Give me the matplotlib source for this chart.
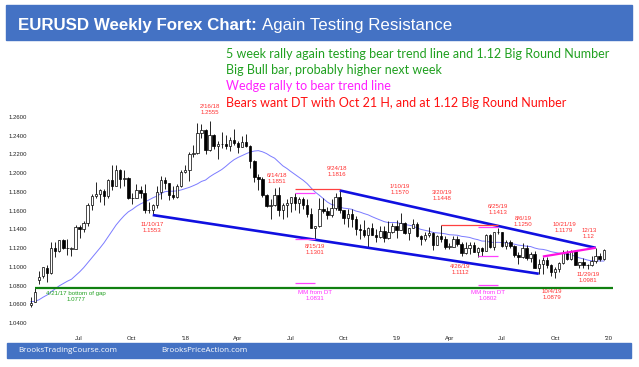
import matplotlib
matplotlib.use('Agg')
import matplotlib.pyplot as plt
import matplotlib.dates as mdates
from matplotlib.patches import Rectangle
import pandas as pd

W, H = 639, 367

# weekly EURUSD candles, weeks starting Monday 10 Apr 2017
first_week = '2017-04-10'
opens = [
    # 2017
    1.0590, 1.0620, 1.0860, 1.0900, 1.0990, 1.0935, 1.1205, 1.1165, 1.1282, 1.1198,
    1.1195, 1.1195, 1.1425, 1.1400, 1.1470, 1.1660, 1.1752, 1.1775, 1.1815, 1.1760,
    1.1925, 1.1860, 1.2035, 1.1940, 1.1950, 1.1730, 1.1735, 1.1820, 1.1785, 1.1610,
    1.1605, 1.1665, 1.1795, 1.1930, 1.1890, 1.1770, 1.1750, 1.1860,
    # 2018
    1.2010, 1.2030, 1.2200, 1.2220, 1.2425, 1.2460, 1.2250, 1.2405, 1.2295, 1.2310,
    1.2310, 1.2290, 1.2355, 1.2320, 1.2280, 1.2330, 1.2290, 1.2130, 1.1960, 1.1940,
    1.1770, 1.1650, 1.1660, 1.1770, 1.1610, 1.1655, 1.1685, 1.1745, 1.1685, 1.1720,
    1.1655, 1.1565, 1.1410, 1.1440, 1.1620, 1.1600, 1.1550, 1.1625, 1.1750, 1.1605,
    1.1525, 1.1560, 1.1510, 1.1400, 1.1390, 1.1335, 1.1415, 1.1340, 1.1315, 1.1380,
    1.1305, 1.1370,
    # 2019
    1.1440, 1.1395, 1.1465, 1.1365, 1.1410, 1.1455, 1.1325, 1.1295, 1.1335, 1.1365,
    1.1235, 1.1325, 1.1300, 1.1215, 1.1215, 1.1300, 1.1245, 1.1150, 1.1200, 1.1235,
    1.1160, 1.1205, 1.1170, 1.1335, 1.1210, 1.1370, 1.1370, 1.1225, 1.1270, 1.1220,
    1.1125, 1.1110, 1.1200, 1.1090, 1.1140, 1.0985, 1.1030, 1.1075, 1.1015, 1.0940,
    1.0980, 1.1040, 1.1145, 1.1080, 1.1165, 1.1020, 1.1050, 1.1020, 1.1015, 1.1060,
    1.1120, 1.1080,
]
highs = [
    1.0680, 1.0777, 1.0950, 1.0995, 1.1020, 1.1265, 1.1268, 1.1285, 1.1295, 1.1295,
    1.1210, 1.1445, 1.1445, 1.1490, 1.1680, 1.1775, 1.1910, 1.1830, 1.1829, 1.1940,
    1.2092, 1.2090, 1.2040, 1.2035, 1.1960, 1.1790, 1.1880, 1.1860, 1.1880, 1.1690,
    1.1668, 1.1860, 1.1965, 1.1960, 1.1890, 1.1860, 1.1880, 1.2030,
    1.2090, 1.2230, 1.2300, 1.2537, 1.2520, 1.2470, 1.2555, 1.2420, 1.2345, 1.2445,
    1.2410, 1.2390, 1.2475, 1.2340, 1.2395, 1.2415, 1.2300, 1.2140, 1.1995, 1.1960,
    1.1780, 1.1720, 1.1840, 1.1852, 1.1680, 1.1720, 1.1750, 1.1790, 1.1745, 1.1750,
    1.1720, 1.1630, 1.1440, 1.1730, 1.1735, 1.1640, 1.1720, 1.1790, 1.1816, 1.1610,
    1.1620, 1.1620, 1.1545, 1.1455, 1.1500, 1.1420, 1.1470, 1.1400, 1.1440, 1.1440,
    1.1485, 1.1470,
    1.1500, 1.1570, 1.1480, 1.1415, 1.1515, 1.1480, 1.1340, 1.1370, 1.1420, 1.1375,
    1.1345, 1.1448, 1.1325, 1.1255, 1.1325, 1.1325, 1.1265, 1.1265, 1.1265, 1.1265,
    1.1215, 1.1215, 1.1350, 1.1350, 1.1375, 1.1413, 1.1375, 1.1285, 1.1285, 1.1230,
    1.1160, 1.1250, 1.1230, 1.1160, 1.1165, 1.1085, 1.1110, 1.1105, 1.1025, 1.0995,
    1.1050, 1.1175, 1.1179, 1.1175, 1.1175, 1.1050, 1.1090, 1.1025, 1.1115, 1.1200,
    1.1145, 1.1190,
]
lows = [
    1.0570, 1.0620, 1.0821, 1.0880, 1.0840, 1.0925, 1.1110, 1.1160, 1.1193, 1.1130,
    1.1120, 1.1190, 1.1310, 1.1370, 1.1440, 1.1610, 1.1730, 1.1690, 1.1660, 1.1740,
    1.1825, 1.1860, 1.1840, 1.1860, 1.1720, 1.1670, 1.1730, 1.1730, 1.1575, 1.1570,
    1.1553, 1.1630, 1.1720, 1.1830, 1.1715, 1.1720, 1.1735, 1.1850,
    1.2000, 1.1920, 1.2170, 1.2210, 1.2380, 1.2205, 1.2240, 1.2260, 1.2155, 1.2270,
    1.2260, 1.2240, 1.2300, 1.2215, 1.2280, 1.2280, 1.2055, 1.1910, 1.1820, 1.1750,
    1.1640, 1.1510, 1.1650, 1.1540, 1.1510, 1.1530, 1.1590, 1.1610, 1.1575, 1.1620,
    1.1530, 1.1410, 1.1301, 1.1430, 1.1580, 1.1510, 1.1530, 1.1610, 1.1570, 1.1460,
    1.1430, 1.1430, 1.1335, 1.1300, 1.1320, 1.1216, 1.1335, 1.1270, 1.1310, 1.1270,
    1.1300, 1.1360,
    1.1310, 1.1390, 1.1350, 1.1290, 1.1410, 1.1320, 1.1235, 1.1280, 1.1320, 1.1175,
    1.1230, 1.1270, 1.1185, 1.1185, 1.1215, 1.1225, 1.1112, 1.1135, 1.1135, 1.1155,
    1.1105, 1.1115, 1.1170, 1.1200, 1.1180, 1.1350, 1.1210, 1.1195, 1.1200, 1.1100,
    1.1027, 1.1090, 1.1070, 1.1050, 1.0985, 1.0926, 1.0925, 1.0990, 1.0905, 1.0879,
    1.0940, 1.1025, 1.1075, 1.1075, 1.1015, 1.0990, 1.0990, 1.0981, 1.1005, 1.1040,
    1.1065, 1.1070,
]
closes = [
    1.0615, 1.0727, 1.0895, 1.0995, 1.0932, 1.1206, 1.1165, 1.1282, 1.1196, 1.1198,
    1.1195, 1.1425, 1.1400, 1.1470, 1.1665, 1.1752, 1.1773, 1.1820, 1.1760, 1.1925,
    1.1860, 1.2035, 1.1940, 1.1950, 1.1730, 1.1735, 1.1820, 1.1785, 1.1610, 1.1605,
    1.1665, 1.1795, 1.1930, 1.1890, 1.1770, 1.1750, 1.1860, 1.2010,
    1.2030, 1.2200, 1.2220, 1.2425, 1.2460, 1.2250, 1.2405, 1.2295, 1.2310, 1.2310,
    1.2290, 1.2355, 1.2320, 1.2280, 1.2330, 1.2290, 1.2130, 1.1960, 1.1940, 1.1770,
    1.1650, 1.1660, 1.1770, 1.1610, 1.1655, 1.1685, 1.1745, 1.1685, 1.1720, 1.1655,
    1.1565, 1.1410, 1.1440, 1.1620, 1.1600, 1.1550, 1.1625, 1.1750, 1.1605, 1.1525,
    1.1560, 1.1510, 1.1400, 1.1390, 1.1335, 1.1415, 1.1340, 1.1315, 1.1380, 1.1305,
    1.1370, 1.1440,
    1.1395, 1.1465, 1.1365, 1.1410, 1.1455, 1.1325, 1.1295, 1.1335, 1.1365, 1.1235,
    1.1325, 1.1300, 1.1215, 1.1215, 1.1300, 1.1245, 1.1150, 1.1200, 1.1235, 1.1160,
    1.1205, 1.1170, 1.1335, 1.1210, 1.1370, 1.1370, 1.1225, 1.1270, 1.1220, 1.1125,
    1.1110, 1.1200, 1.1090, 1.1140, 1.0985, 1.1030, 1.1075, 1.1015, 1.0940, 1.0980,
    1.1040, 1.1145, 1.1080, 1.1165, 1.1020, 1.1050, 1.1020, 1.1015, 1.1060, 1.1120,
    1.1080, 1.1175,
]
# closes of the 19 weeks before the first candle, only feed the 20 week average
prior_closes = [1.0665, 1.0560, 1.0450, 1.0455, 1.0520, 1.0530, 1.0645, 1.0705, 1.0695,
                1.0785, 1.0640, 1.0615, 1.0565, 1.0620, 1.0670, 1.0735, 1.0800, 1.0650,
                1.0640]

ytick_vals = [1.04, 1.06, 1.08, 1.10, 1.12, 1.14, 1.16, 1.18, 1.20, 1.22, 1.24, 1.26]
xtick_dates = ['2017-07-01', '2017-10-01', '2018-01-01', '2018-04-01', '2018-07-01',
               '2018-10-01', '2019-01-01', '2019-04-01', '2019-07-01', '2019-10-01',
               '2020-01-01']
xtick_labels = ['Jul', 'Oct', "'18", 'Apr', 'Jul', 'Oct', "'19", 'Apr', 'Jul', 'Oct', "'20"]

# trend lines: (start week, price) -> (end week, price)
bear_top = [('2018-09-24', 1.1816), ('2019-12-09', 1.1203)]
bear_bottom = [('2017-11-06', 1.1553), ('2019-09-02', 1.0926)]
wedge = [('2019-09-09', 1.1110), ('2019-12-09', 1.1203)]
gap_level = 1.0777

plt.rcParams['font.family'] = ['Liberation Sans', 'DejaVu Sans']
fig = plt.figure(figsize=(W / 100, H / 100), dpi=100)
fig.patch.set_facecolor('white')

# axes placed in pixel terms, scale 0.5805 px/day and 936.4 px per 1.0
ax = fig.add_axes([29 / W, 1 - 333 / H, 603 / W, 288 / H])
d20 = mdates.date2num(pd.Timestamp('2020-01-01'))
ax.set_xlim(d20 + (29 - 609) / 0.5805, d20 + (632 - 609) / 0.5805)
ax.set_ylim(1.04 - 10 / 936.4, 1.26 + 72 / 936.4)
for s in ax.spines.values():
    s.set_visible(False)

dates = pd.date_range(first_week, periods=len(closes), freq='7D')
x = mdates.date2num(dates)

# 20 week moving average
ma = pd.Series(prior_closes + closes).rolling(20).mean().values[len(prior_closes):]
ax.plot(x, ma, color='#7B7BFF', lw=0.7, zorder=2)

# candles
ax.vlines(x, lows, highs, color='black', lw=0.6, zorder=3)
bottoms = [min(o, c) for o, c in zip(opens, closes)]
heights = [max(abs(c - o), 0.0003) for o, c in zip(opens, closes)]
colors = ['white' if c >= o else 'black' for o, c in zip(opens, closes)]
ax.bar(x, heights, bottom=bottoms, width=4.2, color=colors, edgecolor='black',
       lw=0.5, zorder=4)


def seg(pts, **kw):
    xs = [mdates.date2num(pd.Timestamp(d)) for d, _ in pts]
    ys = [p for _, p in pts]
    ax.plot(xs, ys, solid_capstyle='butt', **kw)


seg(bear_top, color='#1010E0', lw=1.9, zorder=5)
seg(bear_bottom, color='#1010E0', lw=1.9, zorder=5)
seg(wedge, color='#FF10E0', lw=1.6, zorder=6)
seg([('2017-04-17', gap_level), ('2020-01-08', gap_level)], color='#108010', lw=1.6, zorder=5)

# double top lines and measured moves
seg([('2018-07-09', 1.1830), ('2018-09-24', 1.1830)], color='#FF4040', lw=0.9, zorder=5)
seg([('2018-07-09', 1.1790), ('2018-08-13', 1.1790)], color='#FF40FF', lw=0.9, zorder=5)
seg([('2018-07-09', 1.1301), ('2018-08-13', 1.1301)], color='#FF40FF', lw=0.9, zorder=5)
seg([('2018-07-09', 1.0831), ('2018-08-13', 1.0831)], color='#FF40FF', lw=0.9, zorder=5)
seg([('2019-03-18', 1.1448), ('2019-06-24', 1.1448)], color='#FF4040', lw=0.9, zorder=5)
seg([('2019-05-20', 1.1425), ('2019-06-24', 1.1425)], color='#FF40FF', lw=0.9, zorder=5)
seg([('2019-05-20', 1.1112), ('2019-06-24', 1.1112)], color='#FF40FF', lw=0.9, zorder=5)
seg([('2019-05-20', 1.0802), ('2019-06-24', 1.0802)], color='#FF40FF', lw=0.9, zorder=5)

# ticks
ax.set_yticks(ytick_vals)
ax.set_yticklabels(['%.4f' % v for v in ytick_vals])
ax.set_xticks([mdates.date2num(pd.Timestamp(d)) for d in xtick_dates])
ax.set_xticklabels(xtick_labels)
ax.tick_params(axis='both', length=0, labelsize=4.3, colors='#222222')
ax.tick_params(axis='y', pad=1.5)
ax.tick_params(axis='x', pad=2.5)


def ftext(px, py, s, **kw):
    fig.text(px / W, 1 - py / H, s, **kw)


# banners
fig.patches.append(Rectangle((6 / W, 1 - 40 / H), 626 / W, 35 / H, transform=fig.transFigure,
                             color='#4472C4', zorder=0))
fig.patches.append(Rectangle((7 / W, 1 - 358 / H), 624 / W, 15 / H, transform=fig.transFigure,
                             color='#4472C4', zorder=0))
ftext(18, 30, 'EURUSD Weekly Forex Chart:', color='white', size=12.2, weight='bold', va='baseline')
ftext(262, 30, 'Again Testing Resistance', color='white', size=12.2, va='baseline')
ftext(18, 350.5, 'BrooksTradingCourse.com', color='white', size=5.8, family='Open Sans', va='center')
ftext(161, 350.5, 'BrooksPriceAction.com', color='white', size=5.8, family='Open Sans', va='center')

# commentary
notes = [
    ('5 week rally again testing bear trend line and 1.12 Big Round Number', '#20A020', 58),
    ('Big Bull bar, probably higher next week', '#20A020', 74),
    ('Wedge rally to bear trend line', '#FF20FF', 90.5),
    ('Bears want DT with Oct 21 H, and at 1.12 Big Round Number', '#FF1010', 107),
]
for s, c, py in notes:
    ftext(226, py, s, color=c, size=9, family='Lato', va='baseline')

# price labels (text, x px, y px of block centre, colour)
labels = [
    ('2/16/18\n1.2555', 210, 109, '#FF3030'),
    ('11/10/17\n1.1553', 152, 227.5, '#FF3030'),
    ('6/14/18\n1.1851', 277, 178, '#FF3030'),
    ('9/24/18\n1.1816', 337, 172, '#FF3030'),
    ('8/15/19\n1.1301', 315, 249, '#FF3030'),
    ('1/10/19\n1.1570', 400, 190, '#FF3030'),
    ('3/20/19\n1.1448', 442, 196, '#FF3030'),
    ('6/25/19\n1.1413', 498, 210, '#FF3030'),
    ('4/26/19\n1.1112', 460, 270, '#FF3030'),
    ('8/6/19\n1.1250', 523, 221.5, '#FF3030'),
    ('10/21/19\n1.1179', 564, 227, '#FF3030'),
    ('12/13\n1.12', 589, 234, '#FF3030'),
    ('11/29/19\n1.0981', 588, 277.5, '#FF3030'),
    ('10/4/19\n1.0879', 552, 294.5, '#FF3030'),
    ('MM from DT\n1.0831', 315, 296, '#FF30FF'),
    ('MM from DT\n1.0802', 488, 296, '#FF30FF'),
    ('4/21/17 bottom of gap\n1.0777', 76, 296.5, '#20A020'),
]
for s, px, py, c in labels:
    ftext(px, py, s, color=c, size=4.4, ha='center', va='center', linespacing=1.25)

fig.savefig('out.png', dpi=100, facecolor='white')
